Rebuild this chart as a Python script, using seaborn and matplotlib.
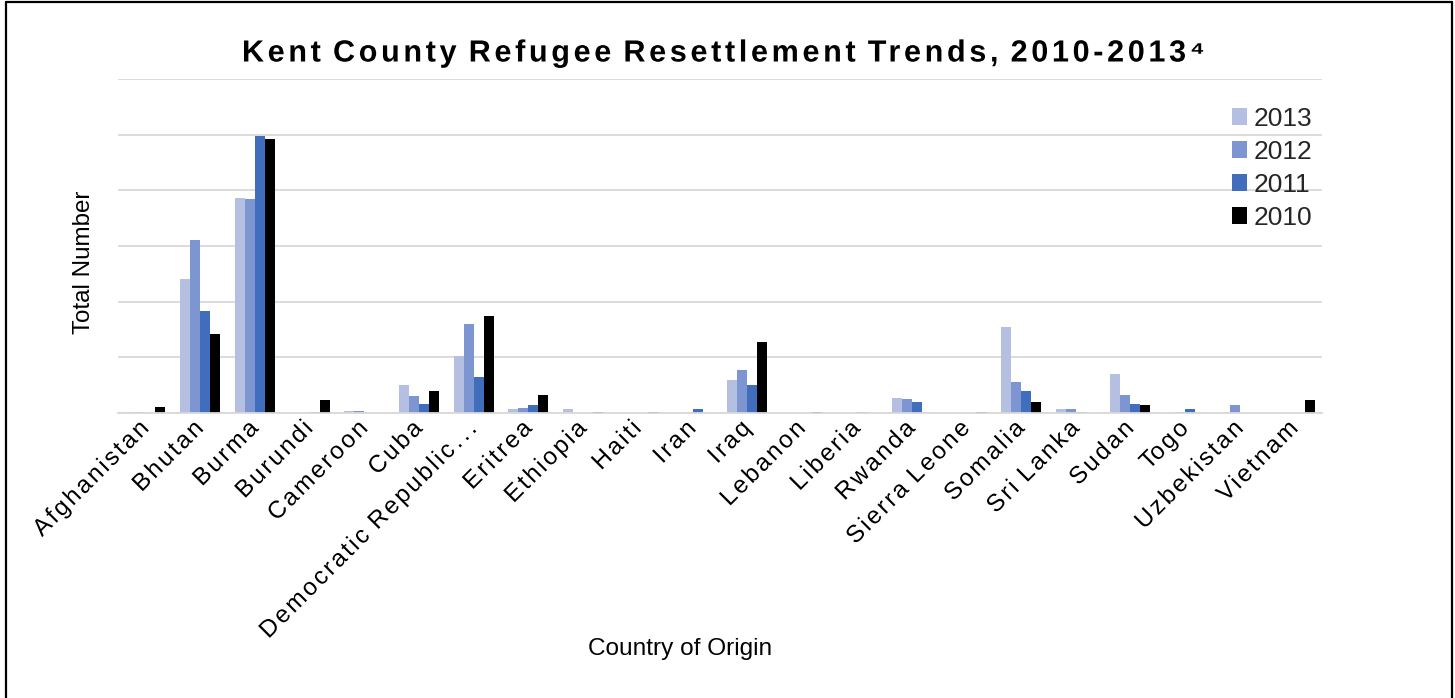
import numpy as np
import pandas as pd
import matplotlib
matplotlib.use("Agg")
import matplotlib.pyplot as plt
import seaborn as sns
from matplotlib import font_manager
from matplotlib.lines import Line2D
from matplotlib.path import Path
from matplotlib.patheffects import AbstractPathEffect
from matplotlib.textpath import TextToPath

# ---- data -----------------------------------------------------------------
countries = [
    "Afghanistan", "Bhutan", "Burma", "Burundi", "Cameroon", "Cuba",
    "Democratic Republic of the Congo", "Eritrea", "Ethiopia", "Haiti", "Iran",
    "Iraq", "Lebanon", "Liberia", "Rwanda", "Sierra Leone", "Somalia",
    "Sri Lanka", "Sudan", "Togo", "Uzbekistan", "Vietnam",
]
tick_labels = [
    "Afghanistan", "Bhutan", "Burma", "Burundi", "Cameroon", "Cuba",
    "Democratic Republic…", "Eritrea", "Ethiopia", "Haiti", "Iran",
    "Iraq", "Lebanon", "Liberia", "Rwanda", "Sierra Leone", "Somalia",
    "Sri Lanka", "Sudan", "Togo", "Uzbekistan", "Vietnam",
]
years = ["2013", "2012", "2011", "2010"]
arrivals_2013 = [1, 240, 387, 0, 4, 51, 102, 7, 8, 0, 0, 60, 0, 0, 27, 0, 154, 7, 70, 0, 0, 0]
arrivals_2012 = [1, 310, 385, 0, 4, 31, 159, 9, 0, 0, 0, 77, 0, 0, 25, 0, 56, 7, 32, 1, 15, 0]
arrivals_2011 = [0, 184, 498, 1, 0, 16, 64, 14, 0, 0, 7, 51, 0, 1, 19, 0, 40, 1, 16, 8, 0, 0]
arrivals_2010 = [10, 142, 492, 24, 0, 40, 174, 32, 2, 1, 0, 128, 2, 0, 0, 1, 19, 0, 14, 0, 0, 23]

title = "Kent County Refugee Resettlement Trends, 2010-2013⁴"
x_title = "Country of Origin"
y_title = "Total Number"

series = {"2013": arrivals_2013, "2012": arrivals_2012,
          "2011": arrivals_2011, "2010": arrivals_2010}
df = pd.DataFrame([
    {"Country": c, "Year": y, "Total": v}
    for y in years for c, v in zip(countries, series[y])
])

palette = {"2013": "#B4BFE1", "2012": "#7D95D1", "2011": "#406EBC", "2010": "#000000"}


class LetterSpacing(AbstractPathEffect):
    """Spread the glyphs of a text apart by a fixed fraction of the em."""

    def __init__(self, em=0.1, align="left"):
        super().__init__()
        self._step = em * TextToPath.FONT_SCALE
        self._align = align

    def draw_path(self, renderer, gc, tpath, affine, rgbFace=None):
        codes = tpath.codes
        if codes is None or len(tpath.vertices) == 0:
            renderer.draw_path(gc, tpath, affine, rgbFace)
            return
        verts = np.array(tpath.vertices, dtype=float)
        starts = np.flatnonzero(codes == Path.MOVETO)
        ends = np.append(starts[1:], len(codes))
        lo, hi = [], []
        for s, e in zip(starts, ends):
            keep = codes[s:e] != Path.CLOSEPOLY
            xs = verts[s:e, 0][keep]
            lo.append(xs.min())
            hi.append(xs.max())
        lo, hi = np.array(lo), np.array(hi)
        # contours whose x-ranges overlap belong to the same glyph
        glyph = np.empty(len(starts), int)
        n, right = -1, -np.inf
        for i in np.argsort(lo, kind="stable"):
            if lo[i] > right - 2:
                n += 1
                right = hi[i]
            else:
                right = max(right, hi[i])
            glyph[i] = n
        shift = {"left": 0.0, "center": n / 2.0, "right": float(n)}[self._align]
        for i, (s, e) in enumerate(zip(starts, ends)):
            verts[s:e, 0] += (glyph[i] - shift) * self._step
        renderer.draw_path(gc, Path(verts, codes), affine, rgbFace)


installed = {f.name for f in font_manager.fontManager.ttflist}
base_font = "Liberation Sans Narrow" if "Liberation Sans Narrow" in installed else "Liberation Sans"

sns.set_theme(style="white")
plt.rcParams["font.family"] = [base_font, "DejaVu Sans"]

W, H = 1455, 698
fig = plt.figure(figsize=(W / 100, H / 100), dpi=100)
ax = fig.add_axes([118 / W, (H - 413) / H, 1204 / W, 334 / H])

sns.barplot(
    data=df, x="Country", y="Total", hue="Year", order=countries,
    hue_order=years, palette=palette, width=0.73, saturation=1,
    linewidth=0, errorbar=None, ax=ax,
)

ax.set_xlim(-0.5, len(countries) - 0.5)
ax.set_ylim(0, 600)
ax.set_yticks(np.arange(0, 601, 100))
ax.yaxis.grid(True, color="#D9D9D9", linewidth=1.3)
ax.xaxis.grid(False)
ax.set_axisbelow(True)
ax.tick_params(axis="y", left=False, labelleft=False)
ax.tick_params(axis="x", length=0, pad=9)
for side in ("top", "right", "left"):
    ax.spines[side].set_visible(False)
ax.spines["bottom"].set_color("#D9D9D9")
ax.spines["bottom"].set_linewidth(1.3)

ax.set_xticks(range(len(countries)))
ax.set_xticklabels(tick_labels, rotation=45, ha="right", va="center",
                   rotation_mode="anchor", fontsize=17.5, color="black")
for lab in ax.get_xticklabels():
    lab.set_path_effects([LetterSpacing(0.1, "right")])

ax.set_xlabel(x_title, fontsize=17.6, color="black")
ax.xaxis.set_label_coords(562 / 1204, (413 - 638) / 334)
ax.set_ylabel(y_title, fontsize=17.4, color="black")
ax.yaxis.set_label_coords((95 - 118) / 1204, (413 - 262) / 334)

handles, labels = ax.get_legend_handles_labels()
ax.legend(handles, labels, loc="upper left",
          bbox_to_anchor=(1232 / W, (H - 107) / H), bbox_transform=fig.transFigure,
          frameon=False, fontsize=19, borderpad=0, borderaxespad=0,
          handlelength=0.58, handleheight=0.58, handletextpad=0.25,
          labelspacing=0.34)

fig.text(723 / W, (H - 61.5) / H, title, ha="center", va="baseline",
         fontsize=22, fontweight="bold", color="black",
         path_effects=[LetterSpacing(0.12, "center")])

# page frame around the chart
for xs, ys in (([5.5, 5.5], [0, H - 1.5]),
               ([5.5, W - 3.5], [H - 1.5, H - 1.5]),
               ([W - 3.5, W - 3.5], [H - 1.5, 0])):
    fig.add_artist(Line2D(np.array(xs) / W, np.array(ys) / H,
                          transform=fig.transFigure, color="black", linewidth=1.6))

fig.savefig("out.png", dpi=100)
